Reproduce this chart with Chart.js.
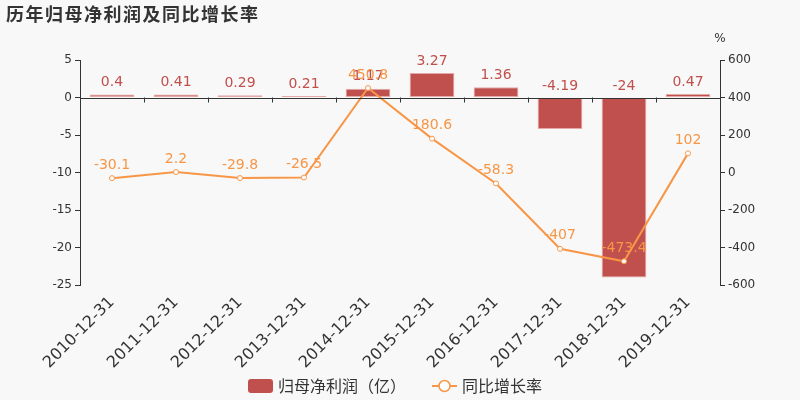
<!DOCTYPE html>
<html>
<head>
<meta charset="utf-8">
<script src="https://cdn.jsdelivr.net/npm/chart.js@4"></script>
<style>
  html, body { margin: 0; padding: 0; background: #f8f8f8; }
  #wrap { width: 800px; height: 400px; position: relative; }
</style>
</head>
<body>
<div id="wrap"><canvas id="c"></canvas></div>
<script>
const categories = ["2010-12-31", "2011-12-31", "2012-12-31", "2013-12-31", "2014-12-31",
  "2015-12-31", "2016-12-31", "2017-12-31", "2018-12-31", "2019-12-31"];
const profit = [0.4, 0.41, 0.29, 0.21, 1.17, 3.27, 1.36, -4.19, -24, 0.47];
const growth = [-30.1, 2.2, -29.8, -26.5, 450.8, 180.6, -58.3, -407, -473.4, 102];
const leftTicks = [5, 0, -5, -10, -15, -20, -25];
const rightTicks = [600, 400, 200, 0, -200, -400, -600];

const barColor = "#c0504d";
const lineColor = "#f79646";
const font = "'DejaVu Sans', 'Noto Sans CJK SC', sans-serif";
const cjk = "'Noto Sans CJK SC', sans-serif";

const overlay = {
  id: "overlay",
  afterDatasetsDraw(chart) {
    const ctx = chart.ctx;
    const { x, y, y1 } = chart.scales;
    const area = chart.chartArea;
    ctx.save();

    // zero line + category ticks
    const y0 = y.getPixelForValue(0);
    ctx.strokeStyle = "#333";
    ctx.lineWidth = 1;
    ctx.beginPath();
    ctx.moveTo(area.left, Math.round(y0) + 0.5);
    ctx.lineTo(area.right, Math.round(y0) + 0.5);
    const step = (area.right - area.left) / categories.length;
    for (let i = 1; i < categories.length; i++) {
      const px = Math.round(area.left + step * i) + 0.5;
      ctx.moveTo(px, y0);
      ctx.lineTo(px, y0 + 5);
    }
    ctx.stroke();

    // bar labels
    ctx.font = "14px " + font;
    ctx.textAlign = "center";
    ctx.textBaseline = "bottom";
    ctx.fillStyle = barColor;
    chart.getDatasetMeta(0).data.forEach((bar, i) => {
      const top = Math.min(bar.y, bar.base);
      ctx.fillText(String(profit[i]), bar.x, top - 5);
    });

    // line labels
    ctx.fillStyle = lineColor;
    chart.getDatasetMeta(1).data.forEach((pt, i) => {
      ctx.fillText(String(growth[i]), pt.x, pt.y - 6);
    });

    // title
    ctx.fillStyle = "#333";
    ctx.textAlign = "left";
    ctx.textBaseline = "middle";
    ctx.font = "bold 18px " + cjk;
    ctx.letterSpacing = "1.5px";
    ctx.fillText("历年归母净利润及同比增长率", 6, 14);
    ctx.letterSpacing = "0px";

    // unit
    ctx.font = "12px " + font;
    ctx.textAlign = "center";
    ctx.fillText("%", y1.left, 39);

    // legend
    ctx.font = "16px " + cjk;
    ctx.textAlign = "left";
    ctx.fillStyle = barColor;
    ctx.beginPath();
    ctx.roundRect(248, 379, 25, 14, 3);
    ctx.fill();
    ctx.fillStyle = "#333";
    ctx.fillText("归母净利润（亿）", 278, 386);
    ctx.strokeStyle = lineColor;
    ctx.lineWidth = 2;
    ctx.beginPath();
    ctx.moveTo(432, 386);
    ctx.lineTo(457, 386);
    ctx.stroke();
    ctx.beginPath();
    ctx.arc(444.5, 386, 5.5, 0, Math.PI * 2);
    ctx.fillStyle = "#fff";
    ctx.fill();
    ctx.lineWidth = 1.5;
    ctx.stroke();
    ctx.fillStyle = "#333";
    ctx.fillText("同比增长率", 462, 386);

    ctx.restore();
  }
};

new Chart(document.getElementById("c"), {
  data: {
    labels: categories,
    datasets: [
      {
        type: "bar",
        data: profit,
        backgroundColor: barColor,
        borderColor: "#e3a9a8",
        borderWidth: 1,
        borderSkipped: false,
        barPercentage: 0.7,
        categoryPercentage: 1,
        yAxisID: "y",
        order: 2
      },
      {
        type: "line",
        data: growth,
        borderColor: lineColor,
        borderWidth: 2,
        pointRadius: 2.5,
        pointBackgroundColor: "#fff",
        pointBorderColor: lineColor,
        pointBorderWidth: 1,
        tension: 0,
        yAxisID: "y1",
        order: 1
      }
    ]
  },
  options: {
    responsive: true,
    maintainAspectRatio: false,
    animation: false,
    layout: { padding: { top: 60, left: 0, right: 0, bottom: 0 } },
    plugins: {
      legend: { display: false },
      tooltip: { enabled: false }
    },
    scales: {
      x: {
        grid: { display: false },
        border: { display: false },
        ticks: {
          color: "#333",
          font: { size: 16, family: font },
          minRotation: 45,
          maxRotation: 45,
          autoSkip: false,
          padding: 0
        },
        afterFit(scale) { scale.height = 115; }
      },
      y: {
        position: "left",
        min: -25,
        max: 5,
        afterBuildTicks(scale) { scale.ticks = leftTicks.map(v => ({ value: v })); },
        grid: { drawOnChartArea: false, tickLength: 5, color: "#333" },
        border: { color: "#333" },
        ticks: { color: "#333", font: { size: 12, family: font }, padding: 3 },
        afterFit(scale) { scale.width = 80; }
      },
      y1: {
        position: "right",
        min: -600,
        max: 600,
        afterBuildTicks(scale) { scale.ticks = rightTicks.map(v => ({ value: v })); },
        grid: { drawOnChartArea: false, tickLength: 5, color: "#333" },
        border: { color: "#333" },
        ticks: { color: "#333", font: { size: 12, family: font }, padding: 3 },
        afterFit(scale) { scale.width = 80; }
      }
    }
  },
  plugins: [overlay]
});
</script>
</body>
</html>
